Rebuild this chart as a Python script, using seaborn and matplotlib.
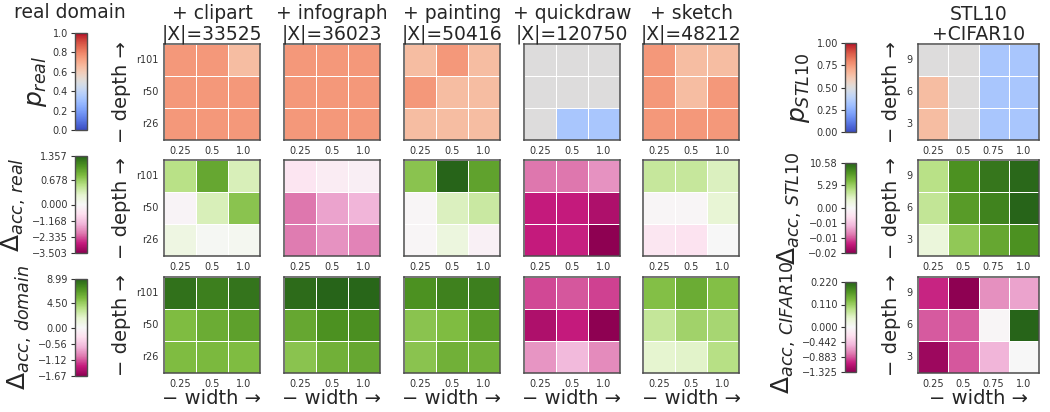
import numpy as np
import pandas as pd
import matplotlib
matplotlib.use("Agg")
import matplotlib.pyplot as plt
import matplotlib.colors as mcolors
from matplotlib.cm import ScalarMappable
import seaborn as sns

# ---------------------------------------------------------------- data
DEPTHS = ["r101", "r50", "r26"]
WIDTHS = ["0.25", "0.5", "1.0"]
STL_DEPTHS = ["9", "6", "3"]
STL_WIDTHS = ["0.25", "0.5", "0.75", "1.0"]

DOMAINS = ["clipart", "infograph", "painting", "quickdraw", "sketch"]
DOMAIN_SIZES = [33525, 36023, 50416, 120750, 48212]

# probability that the real-domain model is preferred (rows: depth, cols: width)
p_real_clipart = [[0.75, 0.75, 0.65], [0.75, 0.75, 0.75], [0.75, 0.75, 0.75]]
p_real_infograph = [[0.75, 0.75, 0.75], [0.75, 0.75, 0.75], [0.75, 0.75, 0.75]]
p_real_painting = [[0.65, 0.75, 0.65], [0.75, 0.65, 0.65], [0.65, 0.65, 0.65]]
p_real_quickdraw = [[0.50, 0.50, 0.50], [0.50, 0.50, 0.50], [0.50, 0.33, 0.33]]
p_real_sketch = [[0.75, 0.65, 0.65], [0.75, 0.65, 0.75], [0.75, 0.75, 0.75]]

# accuracy change on the real domain
d_real_clipart = [[0.54, 0.95, 0.35], [-0.12, 0.35, 0.76], [0.14, 0.03, 0.05]]
d_real_infograph = [[-0.56, -0.35, -0.30], [-2.10, -1.60, -1.40], [-2.05, -1.80, -1.95]]
d_real_painting = [[0.76, 1.3568, 0.98], [-0.08, 0.33, 0.44], [-0.08, 0.18, -0.20]]
d_real_quickdraw = [[-2.10, -2.10, -1.80], [-2.80, -2.80, -3.08], [-2.80, -2.75, -3.503]]
d_real_sketch = [[0.46, 0.46, 0.33], [-0.08, -0.08, 0.24], [-0.50, -0.62, -0.02]]

# accuracy change on the added domain
d_dom_clipart = [[8.45, 7.90, 8.30], [5.40, 6.10, 6.60], [5.40, 5.50, 5.40]]
d_dom_infograph = [[8.70, 8.992, 8.90], [6.30, 7.20, 7.25], [5.00, 5.90, 6.30]]
d_dom_painting = [[7.20, 7.80, 7.90], [5.00, 5.40, 6.80], [5.00, 5.90, 5.90]]
d_dom_quickdraw = [[-1.17, -1.12, -1.20], [-1.47, -1.34, -1.674], [-0.84, -0.63, -0.90]]
d_dom_sketch = [[5.20, 6.10, 5.20], [3.10, 4.30, 4.10], [1.80, 1.90, 3.60]]

# STL10 + CIFAR10 experiment (rows: depth 9/6/3, cols: width)
p_stl10 = [[0.50, 0.50, 0.33, 0.33], [0.65, 0.50, 0.33, 0.33], [0.65, 0.50, 0.33, 0.33]]
d_stl10 = [[4.20, 8.50, 9.70, 10.40], [3.80, 8.00, 9.10, 10.58], [1.50, 5.70, 7.40, 8.50]]
d_cifar10 = [[-1.03, -1.325, -0.69, -0.61], [-0.87, -0.86, -0.03, 0.22], [-1.25, -0.88, -0.53, -0.01]]

# colour-bar ranges
D_REAL_RANGE = (-3.503, 1.3568)
D_DOM_RANGE = (-1.674, 8.992)
D_STL10_RANGE = (-0.02, 10.58)
D_CIFAR10_RANGE = (-1.325, 0.22)

p_real = [p_real_clipart, p_real_infograph, p_real_painting, p_real_quickdraw, p_real_sketch]
d_real = [d_real_clipart, d_real_infograph, d_real_painting, d_real_quickdraw, d_real_sketch]
d_dom = [d_dom_clipart, d_dom_infograph, d_dom_painting, d_dom_quickdraw, d_dom_sketch]

# ---------------------------------------------------------------- style
sns.set_theme(style="ticks")
plt.rcParams["font.family"] = ["DejaVu Sans"]
TEXT = "#262626"
SPINE = "#4d4d4d"
TICK_FS = 7
LABEL_FS = 14
TITLE_FS = 13.5
CBAR_LABEL_FS = 18

W, H = 1050, 412
fig = plt.figure(figsize=(W / 100, H / 100), dpi=100)


def rect(x0, y0, w, h):
    return [x0 / W, 1 - (y0 + h) / H, w / W, h / H]


def two_slope(lo, hi):
    return mcolors.TwoSlopeNorm(vmin=lo, vcenter=0.0, vmax=hi)


def slope_ticks(lo, hi):
    return np.concatenate([np.linspace(lo, 0, 4), np.linspace(0, hi, 3)[1:]])


def draw_heat(ax, values, rows, cols, cmap, norm, show_y, show_xlabel):
    df = pd.DataFrame(values, index=rows, columns=cols)
    sns.heatmap(df, ax=ax, cmap=cmap, norm=norm, cbar=False,
                linewidths=0.6, linecolor="white",
                xticklabels=True, yticklabels=show_y, square=False)
    for sp in ax.spines.values():
        sp.set_visible(True)
        sp.set_color(SPINE)
        sp.set_linewidth(1.1)
    ax.tick_params(length=0, labelsize=TICK_FS, colors="#333333", pad=4)
    ax.set_xticklabels(cols, rotation=0)
    if show_y:
        ax.set_yticklabels(rows, rotation=0)
        ax.set_ylabel("− depth →", fontsize=LABEL_FS, color=TEXT, labelpad=4)
    else:
        ax.set_ylabel("")
    if show_xlabel:
        ax.set_xlabel("− width →", fontsize=LABEL_FS, color=TEXT, labelpad=0)
    else:
        ax.set_xlabel("")


def draw_cbar(cax, cmap, norm, ticks, fmt, label):
    cb = fig.colorbar(ScalarMappable(norm=norm, cmap=cmap), cax=cax)
    cax.yaxis.set_ticks_position("left")
    cax.yaxis.set_label_position("left")
    cb.set_ticks(ticks)
    cb.set_ticklabels([fmt.format(t).replace("-", "\u2212") for t in ticks])
    cax.tick_params(labelsize=TICK_FS, length=3, width=0.8, colors="#333333", pad=2)
    cb.outline.set_edgecolor(SPINE)
    cb.outline.set_linewidth(1.0)
    cb.set_label(label, fontsize=CBAR_LABEL_FS, color=TEXT, labelpad=3)


# geometry (pixels)
COL_X = [164, 284, 404, 524, 643]
ROW_Y = [44, 160, 277]
CELL = 96
STL_X, STL_W = 918, 121

row_data = [p_real, d_real, d_dom]
row_norms = [mcolors.Normalize(0, 1), two_slope(*D_REAL_RANGE), two_slope(*D_DOM_RANGE)]
row_cmaps = ["coolwarm", "PiYG", "PiYG"]

for r in range(3):
    for c, dom in enumerate(DOMAINS):
        ax = fig.add_axes(rect(COL_X[c], ROW_Y[r], CELL, CELL))
        draw_heat(ax, row_data[r][c], DEPTHS, WIDTHS, row_cmaps[r], row_norms[r],
                  show_y=(c == 0), show_xlabel=(r == 2))
        if r == 0:
            ax.set_title(f"+ {dom}\n|X|={DOMAIN_SIZES[c]}", fontsize=TITLE_FS,
                         color=TEXT, pad=2, linespacing=1.1)

# left colour bars
cax = fig.add_axes(rect(75, 33, 12, 97))
draw_cbar(cax, "coolwarm", row_norms[0], np.linspace(0, 1, 6), "{:.1f}", r"$p_{real}$")
cax = fig.add_axes(rect(75, 156, 12, 97))
draw_cbar(cax, "PiYG", row_norms[1], slope_ticks(*D_REAL_RANGE), "{:.3f}",
          r"$\Delta_{acc,\,real}$")
cax = fig.add_axes(rect(75, 279, 12, 97))
draw_cbar(cax, "PiYG", row_norms[2], slope_ticks(*D_DOM_RANGE), "{:.2f}",
          r"$\Delta_{acc,\,domain}$")

fig.text(70 / W, 1 - 18 / H, "real domain", ha="center", va="baseline",
         fontsize=TITLE_FS, color=TEXT)

# STL10 + CIFAR10 panel
stl_data = [p_stl10, d_stl10, d_cifar10]
stl_norms = [mcolors.Normalize(0, 1), two_slope(*D_STL10_RANGE), two_slope(*D_CIFAR10_RANGE)]
stl_cmaps = ["coolwarm", "PiYG", "PiYG"]
for r in range(3):
    ax = fig.add_axes(rect(STL_X, ROW_Y[r], STL_W, CELL))
    draw_heat(ax, stl_data[r], STL_DEPTHS, STL_WIDTHS, stl_cmaps[r], stl_norms[r],
              show_y=True, show_xlabel=(r == 2))
    if r == 0:
        ax.set_title("STL10\n+CIFAR10", fontsize=TITLE_FS, color=TEXT, pad=2,
                     linespacing=1.1)

cax = fig.add_axes(rect(845, 43, 11, 89))
draw_cbar(cax, "coolwarm", stl_norms[0], np.linspace(0, 1, 5), "{:.2f}", r"$p_{STL10}$")
cax = fig.add_axes(rect(845, 163, 11, 90))
draw_cbar(cax, "PiYG", stl_norms[1], slope_ticks(*D_STL10_RANGE), "{:.2f}",
          r"$\Delta_{acc,\,STL10}$")
cax = fig.add_axes(rect(845, 282, 11, 90))
draw_cbar(cax, "PiYG", stl_norms[2], slope_ticks(*D_CIFAR10_RANGE), "{:.3f}",
          r"$\Delta_{acc,\,CIFAR10}$")

fig.savefig("out.png", dpi=100)
